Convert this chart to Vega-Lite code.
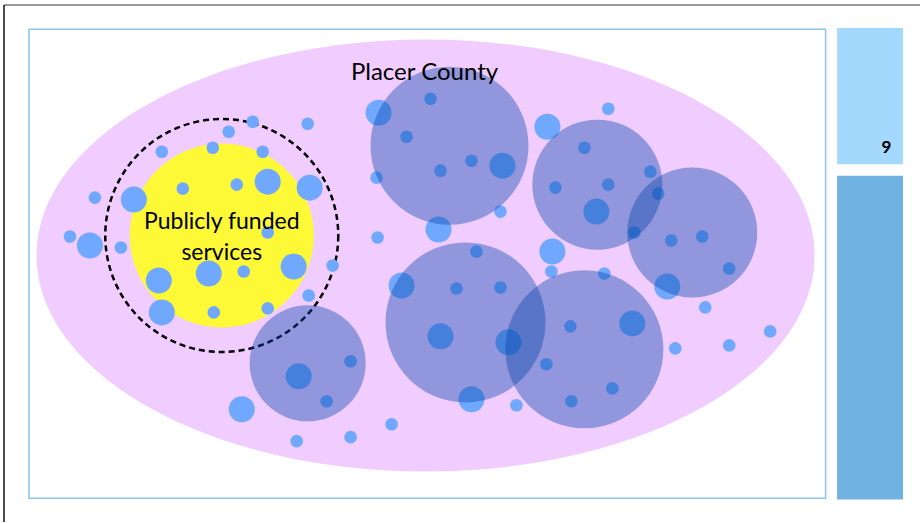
{
  "$schema": "https://vega.github.io/schema/vega-lite/v6.json",
  "width": 921,
  "height": 523,
  "padding": 0,
  "autosize": {"type": "fit", "contains": "padding"},
  "background": "white",
  "config": {"view": {"stroke": null}},
  "datasets": {
    "circles": [
      {"group": "service", "x": 253, "y": 122, "r": 6.3},
      {"group": "service", "x": 308, "y": 124, "r": 6.3},
      {"group": "service", "x": 229, "y": 132, "r": 6.3},
      {"group": "service", "x": 162, "y": 152, "r": 6.3},
      {"group": "service", "x": 213, "y": 148, "r": 6.3},
      {"group": "service", "x": 263, "y": 152, "r": 6.3},
      {"group": "service", "x": 268, "y": 182, "r": 13},
      {"group": "service", "x": 310, "y": 188, "r": 13},
      {"group": "service", "x": 95, "y": 198, "r": 6.3},
      {"group": "service", "x": 134, "y": 200, "r": 13},
      {"group": "service", "x": 183, "y": 189, "r": 6.3},
      {"group": "service", "x": 237, "y": 185, "r": 6.3},
      {"group": "service", "x": 70, "y": 237, "r": 6.3},
      {"group": "service", "x": 90, "y": 246, "r": 13},
      {"group": "service", "x": 121, "y": 248, "r": 6.3},
      {"group": "service", "x": 268, "y": 233, "r": 6.3},
      {"group": "service", "x": 209, "y": 274, "r": 13},
      {"group": "service", "x": 159, "y": 281, "r": 13},
      {"group": "service", "x": 244, "y": 272, "r": 6.3},
      {"group": "service", "x": 294, "y": 267, "r": 13},
      {"group": "service", "x": 309, "y": 296, "r": 6.3},
      {"group": "service", "x": 162, "y": 313, "r": 13},
      {"group": "service", "x": 214, "y": 313, "r": 6.3},
      {"group": "service", "x": 268, "y": 309, "r": 6.3},
      {"group": "service", "x": 333, "y": 266, "r": 6.3},
      {"group": "service", "x": 378, "y": 238, "r": 6.3},
      {"group": "service", "x": 377, "y": 178, "r": 6.3},
      {"group": "service", "x": 379, "y": 113, "r": 13},
      {"group": "service", "x": 431, "y": 99, "r": 6.3},
      {"group": "service", "x": 407, "y": 137, "r": 6.3},
      {"group": "service", "x": 441, "y": 171, "r": 6.3},
      {"group": "service", "x": 472, "y": 161, "r": 6.3},
      {"group": "service", "x": 503, "y": 166, "r": 13},
      {"group": "service", "x": 548, "y": 127, "r": 13},
      {"group": "service", "x": 609, "y": 109, "r": 6.3},
      {"group": "service", "x": 585, "y": 148, "r": 6.3},
      {"group": "service", "x": 556, "y": 188, "r": 6.3},
      {"group": "service", "x": 609, "y": 185, "r": 6.3},
      {"group": "service", "x": 597, "y": 212, "r": 13},
      {"group": "service", "x": 501, "y": 212, "r": 6.3},
      {"group": "service", "x": 439, "y": 230, "r": 13},
      {"group": "service", "x": 651, "y": 172, "r": 6.3},
      {"group": "service", "x": 659, "y": 194, "r": 6.3},
      {"group": "service", "x": 635, "y": 233, "r": 6.3},
      {"group": "service", "x": 672, "y": 241, "r": 6.3},
      {"group": "service", "x": 703, "y": 237, "r": 6.3},
      {"group": "service", "x": 730, "y": 269, "r": 6.3},
      {"group": "service", "x": 668, "y": 287, "r": 13},
      {"group": "service", "x": 706, "y": 308, "r": 6.3},
      {"group": "service", "x": 477, "y": 252, "r": 6.3},
      {"group": "service", "x": 553, "y": 252, "r": 13},
      {"group": "service", "x": 552, "y": 272, "r": 6.3},
      {"group": "service", "x": 605, "y": 274, "r": 6.3},
      {"group": "service", "x": 402, "y": 286, "r": 13},
      {"group": "service", "x": 457, "y": 289, "r": 6.3},
      {"group": "service", "x": 501, "y": 288, "r": 6.3},
      {"group": "service", "x": 441, "y": 337, "r": 13},
      {"group": "service", "x": 509, "y": 343, "r": 13},
      {"group": "service", "x": 571, "y": 327, "r": 6.3},
      {"group": "service", "x": 633, "y": 324, "r": 13},
      {"group": "service", "x": 676, "y": 349, "r": 6.3},
      {"group": "service", "x": 730, "y": 346, "r": 6.3},
      {"group": "service", "x": 771, "y": 332, "r": 6.3},
      {"group": "service", "x": 613, "y": 389, "r": 6.3},
      {"group": "service", "x": 299, "y": 377, "r": 13},
      {"group": "service", "x": 242, "y": 410, "r": 13},
      {"group": "service", "x": 297, "y": 442, "r": 6.3},
      {"group": "service", "x": 351, "y": 362, "r": 6.3},
      {"group": "service", "x": 327, "y": 402, "r": 6.3},
      {"group": "service", "x": 392, "y": 425, "r": 6.3},
      {"group": "service", "x": 351, "y": 438, "r": 6.3},
      {"group": "service", "x": 472, "y": 400, "r": 13},
      {"group": "service", "x": 517, "y": 406, "r": 6.3},
      {"group": "service", "x": 547, "y": 365, "r": 6.3},
      {"group": "service", "x": 572, "y": 402, "r": 6.3},
      {"group": "system", "x": 450, "y": 146, "r": 79},
      {"group": "system", "x": 598, "y": 185, "r": 65},
      {"group": "system", "x": 693, "y": 233, "r": 65},
      {"group": "system", "x": 466, "y": 323, "r": 80},
      {"group": "system", "x": 585, "y": 350, "r": 79},
      {"group": "system", "x": 308, "y": 364, "r": 58}
    ]
  },
  "encoding": {
    "x": {"field": "x", "type": "quantitative", "scale": {"domain": [0, 921], "nice": false, "zero": false}, "axis": null},
    "y": {"field": "y", "type": "quantitative", "scale": {"domain": [0, 523], "nice": false, "zero": false, "reverse": true}, "axis": null}
  },
  "layer": [
    {
      "data": {"values": [{"edge": "top", "x": 4, "x2": 921, "y": 5, "y2": 5}]},
      "mark": {"type": "rule", "stroke": "#7a7a7a", "strokeWidth": 1.5},
      "encoding": {"x2": {"field": "x2"}, "y2": {"field": "y2"}}
    },
    {
      "data": {"values": [{"edge": "left", "x": 4, "x2": 4, "y": 5, "y2": 523}]},
      "mark": {"type": "rule", "stroke": "#111111", "strokeWidth": 1.5},
      "encoding": {"x2": {"field": "x2"}, "y2": {"field": "y2"}}
    },
    {
      "data": {"values": [{"panel": "slide", "x": 29, "x2": 826.5, "y": 29.3, "y2": 499.3}]},
      "mark": {"type": "rect", "fill": "white", "stroke": "#8cc4ea", "strokeWidth": 1.5},
      "encoding": {"x2": {"field": "x2"}, "y2": {"field": "y2"}}
    },
    {
      "data": {"values": [{"panel": "number", "x": 838, "x2": 904, "y": 28, "y2": 164.5}]},
      "mark": {"type": "rect", "fill": "#a4d8fc"},
      "encoding": {"x2": {"field": "x2"}, "y2": {"field": "y2"}}
    },
    {
      "data": {"values": [{"panel": "bar", "x": 838, "x2": 904, "y": 176, "y2": 500.5}]},
      "mark": {"type": "rect", "fill": "#70b2e1"},
      "encoding": {"x2": {"field": "x2"}, "y2": {"field": "y2"}}
    },
    {
      "data": {"values": [{"region": "Placer County", "x": 426, "y": 256, "r": 389}]},
      "mark": {"type": "point", "shape": "M -1 0 A 1 0.5553 0 1 0 1 0 A 1 0.5553 0 1 0 -1 0 Z", "filled": true, "fill": "#f0cdfe", "opacity": 1, "strokeWidth": 0},
      "encoding": {"size": {"field": "r", "type": "quantitative", "scale": {"type": "pow", "exponent": 2, "domain": [0, 400], "range": [0, 640000]}, "legend": null}}
    },
    {
      "data": {"values": [{"region": "Publicly funded services", "x": 222, "y": 236, "r": 92}]},
      "mark": {"type": "point", "shape": "circle", "filled": true, "fill": "#fdf936", "opacity": 1, "strokeWidth": 0},
      "encoding": {"size": {"field": "r", "type": "quantitative", "legend": null}}
    },
    {
      "data": {"values": [{"region": "boundary", "x": 222, "y": 236, "r": 116.5}]},
      "mark": {"type": "point", "shape": "circle", "filled": false, "fill": null, "stroke": "#000000", "strokeWidth": 2.5, "strokeDash": [6, 4], "opacity": 1},
      "encoding": {"size": {"field": "r", "type": "quantitative", "legend": null}}
    },
    {
      "data": {"name": "circles"},
      "transform": [{"filter": "datum.group === 'service'"}],
      "mark": {"type": "point", "shape": "circle", "filled": true, "fill": "#70a8fd", "opacity": 1, "strokeWidth": 0},
      "encoding": {"size": {"field": "r", "type": "quantitative", "legend": null}}
    },
    {
      "data": {"name": "circles"},
      "transform": [{"filter": "datum.group === 'system'"}],
      "mark": {"type": "point", "shape": "circle", "filled": true, "fill": "#0443aa", "opacity": 0.4, "strokeWidth": 0},
      "encoding": {"size": {"field": "r", "type": "quantitative", "legend": null}}
    },
    {
      "data": {"values": [{"label": "Placer County", "x": 425, "y": 80}]},
      "mark": {"type": "text", "font": "Lato", "fontSize": 24, "color": "#000000", "align": "center", "baseline": "alphabetic"},
      "encoding": {"text": {"field": "label"}}
    },
    {
      "data": {"values": [{"label": "Publicly funded", "x": 222, "y": 229}, {"label": "services", "x": 222, "y": 260}]},
      "mark": {"type": "text", "font": "Lato", "fontSize": 23, "color": "#000000", "align": "center", "baseline": "alphabetic"},
      "encoding": {"text": {"field": "label"}}
    },
    {
      "data": {"values": [{"label": "9", "x": 887.5, "y": 153}]},
      "mark": {"type": "text", "font": "Lato", "fontSize": 17, "fontWeight": "bold", "color": "#000000", "align": "center", "baseline": "alphabetic"},
      "encoding": {"text": {"field": "label"}}
    }
  ]
}
